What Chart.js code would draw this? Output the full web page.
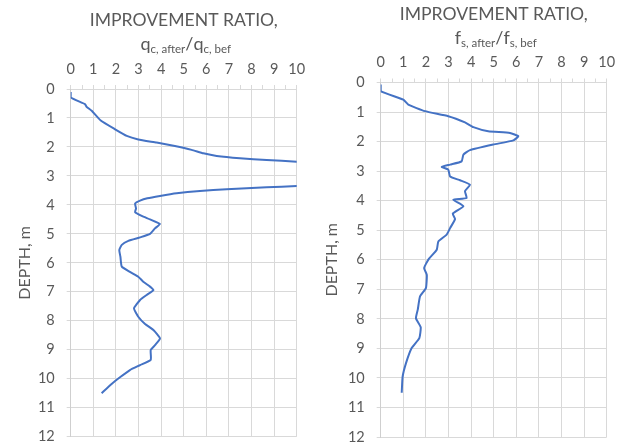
<!DOCTYPE html>
<html>
<head>
<meta charset="utf-8">
<script src="https://cdn.jsdelivr.net/npm/chart.js@4.4.1/dist/chart.umd.min.js"></script>
<style>
  html, body { margin: 0; padding: 0; background: #ffffff; }
  #wrap { position: relative; width: 628px; height: 448px; }
  #wrap canvas { position: absolute; top: 0; }
</style>
</head>
<body>
<div id="wrap">
  <canvas id="qcChart" width="314" height="448" style="left:0"></canvas>
  <canvas id="fsChart" width="314" height="448" style="left:314px"></canvas>
</div>
<script>
// Cone tip resistance improvement ratio q_c,after / q_c,bef against depth (m)
const qcDepth = [0.10, 0.29, 0.52, 0.61, 0.75, 1.09, 1.39, 1.62, 1.74, 1.85, 1.97, 2.10, 2.22, 2.31, 2.39, 2.45, 2.51, 2.60, 2.95, 3.31, 3.35, 3.39, 3.46, 3.52, 3.60, 3.69, 3.77, 3.85, 3.95, 4.12, 4.25, 4.38, 4.50, 4.66, 4.81, 5.00, 5.12, 5.24, 5.38, 5.56, 5.79, 6.13, 6.31, 6.48, 6.65, 6.82, 6.94, 7.11, 7.28, 7.57, 7.86, 8.11, 8.32, 8.61, 8.84, 9.01, 9.35, 9.53, 9.70, 9.95, 10.18, 10.50];
const qcRatio = [0.00, 0.00, 0.63, 0.70, 0.93, 1.33, 1.96, 2.48, 2.99, 3.80, 4.61, 5.35, 5.87, 6.46, 7.49, 8.67, 10.00, 11.50, 13.50, 11.50, 10.00, 8.67, 6.90, 5.72, 4.69, 3.95, 3.39, 3.07, 2.85, 2.89, 2.85, 3.14, 3.51, 3.95, 3.73, 3.51, 3.07, 2.55, 2.26, 2.15, 2.20, 2.26, 2.62, 2.99, 3.21, 3.51, 3.66, 3.36, 3.07, 2.80, 2.99, 3.29, 3.66, 3.95, 3.73, 3.54, 3.54, 3.07, 2.62, 2.18, 1.81, 1.37];

// Sleeve friction improvement ratio f_s,after / f_s,bef against depth (m)
const fsDepth = [0.07, 0.29, 0.58, 0.75, 0.97, 1.14, 1.35, 1.51, 1.65, 1.71, 1.82, 1.96, 2.10, 2.29, 2.44, 2.67, 2.78, 2.86, 2.95, 3.18, 3.31, 3.46, 3.68, 3.91, 3.97, 4.19, 4.44, 4.62, 4.93, 5.15, 5.38, 5.66, 5.97, 6.28, 6.51, 6.96, 7.24, 7.69, 7.98, 8.28, 8.65, 8.99, 9.50, 9.96, 10.50];
const fsRatio = [0.00, 0.00, 1.00, 1.22, 1.96, 2.99, 3.73, 4.10, 4.76, 5.72, 6.09, 5.87, 4.98, 3.95, 3.66, 3.58, 3.07, 2.70, 2.99, 3.07, 3.51, 3.95, 3.73, 3.80, 3.21, 3.66, 3.19, 3.29, 3.07, 2.92, 2.55, 2.48, 2.13, 1.92, 2.04, 2.00, 1.74, 1.64, 1.56, 1.77, 1.71, 1.37, 1.12, 0.97, 0.93];

// Axis ranges and titles
const ratioRange = [0, 10];
const depthRange = [0, 12];
const depthTitle = 'DEPTH, m';
const chartTitle = 'IMPROVEMENT RATIO,';
const qcSubtitle = [['q', false], ['c, after', true], ['/', false], ['q', false], ['c, bef', true]];
const fsSubtitle = [['f', false], ['s, after', true], ['/', false], ['f', false], ['s, bef', true]];

const FONT = 'Lato, "Open Sans", sans-serif';
const TEXT = '#595959';
const GRID = '#d9d9d9';
const LINE = '#4472C4';

// Draws the two-line heading above the plot, with subscripts in the second line
function headingPlugin(titleY, subY, parts) {
  return {
    id: 'heading',
    afterDraw(chart) {
      const ctx = chart.ctx;
      const area = chart.chartArea;
      const cx = (area.left + area.right) / 2;
      ctx.save();
      ctx.fillStyle = TEXT;
      ctx.textBaseline = 'middle';
      ctx.textAlign = 'center';
      ctx.font = '17.6px ' + FONT;
      ctx.fillText(chartTitle, cx, titleY);

      ctx.textAlign = 'left';
      ctx.textBaseline = 'alphabetic';
      const mainFont = '18px ' + FONT;
      const subFont = '11.5px ' + FONT;
      let total = 0;
      const widths = parts.map(([t, sub]) => {
        ctx.font = sub ? subFont : mainFont;
        const w = ctx.measureText(t).width;
        total += w;
        return w;
      });
      let x = cx - total / 2 + 2;
      parts.forEach(([t, sub], i) => {
        ctx.font = sub ? subFont : mainFont;
        ctx.fillText(t, x, sub ? subY + 3 : subY);
        x += widths[i];
      });
      ctx.restore();
    }
  };
}

function buildChart(id, depth, ratio, geom, parts) {
  const points = depth.map((d, i) => ({ x: ratio[i], y: d }));
  return new Chart(document.getElementById(id), {
    type: 'scatter',
    data: {
      datasets: [{
        data: points,
        showLine: true,
        borderColor: LINE,
        borderWidth: 2,
        pointRadius: 0,
        pointHoverRadius: 0,
        tension: 0.15,
        fill: false
      }]
    },
    options: {
      responsive: false,
      animation: false,
      devicePixelRatio: 1,
      layout: { padding: geom.padding },
      plugins: { legend: { display: false }, tooltip: { enabled: false }, title: { display: false } },
      scales: {
        x: {
          type: 'linear',
          position: 'top',
          min: ratioRange[0],
          max: ratioRange[1],
          ticks: {
            stepSize: 0.5,
            autoSkip: false,
            maxRotation: 0,
            color: TEXT,
            padding: 7,
            font: { family: FONT, size: 14.5 },
            callback: (v) => Number.isInteger(v) ? String(v) : ''
          },
          grid: {
            color: (c) => (c.tick && Number.isInteger(c.tick.value)) ? GRID : 'rgba(0,0,0,0)',
            tickColor: GRID,
            tickLength: 4,
            lineWidth: 1
          },
          border: { color: GRID },
          afterFit: (s) => { s.height = geom.xHeight; s.paddingLeft = 0; s.paddingRight = 0; }
        },
        y: {
          type: 'linear',
          position: 'left',
          reverse: true,
          min: depthRange[0],
          max: depthRange[1],
          ticks: {
            stepSize: 1,
            autoSkip: false,
            color: TEXT,
            padding: 12,
            font: { family: FONT, size: 14.5 }
          },
          grid: { color: GRID, tickLength: 4, lineWidth: 1 },
          border: { color: '#cfcfcf' },
          title: {
            display: true,
            text: depthTitle,
            color: TEXT,
            padding: 0,
            font: { family: FONT, size: 16 }
          },
          afterFit: (s) => { s.width = geom.yWidth; s.paddingTop = 0; s.paddingBottom = 0; }
        }
      }
    },
    plugins: [headingPlugin(geom.titleY, geom.subY, parts)]
  });
}

buildChart('qcChart', qcDepth, qcRatio, {
  padding: { left: 15.4, right: 17.3, top: 50, bottom: 11.3 },
  xHeight: 39,
  yWidth: 55.3,
  titleY: 20,
  subY: 50
}, qcSubtitle);

buildChart('fsChart', fsDepth, fsRatio, {
  padding: { left: 8.4, right: 21.3, top: 44, bottom: 11 },
  xHeight: 38.5,
  yWidth: 58.3,
  titleY: 14,
  subY: 44
}, fsSubtitle);
</script>
</body>
</html>
